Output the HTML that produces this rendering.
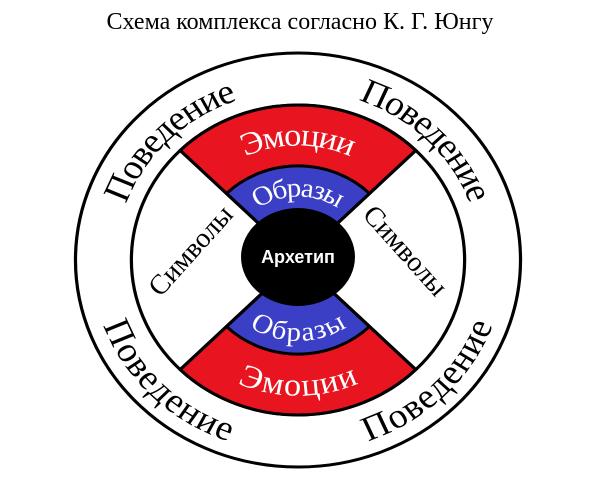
<!DOCTYPE html>
<html><head><meta charset="utf-8"><style>
html,body{margin:0;padding:0;background:#fff;}
svg{display:block;}
</style></head><body>
<svg width="600" height="494" viewBox="0 0 600 494" xmlns="http://www.w3.org/2000/svg">
<text x="300" y="29" text-anchor="middle" font-family="Liberation Serif, serif" font-size="24" fill="#000">Схема комплекса согласно К. Г. Юнгу</text>
<g transform="translate(298,260) scale(1.075,1)">
  <defs>
    <path id="eT" d="M -88.4 -88.4 A 125 125 0 0 1 88.4 -88.4"/>
    <path id="eB" d="M -88.4 88.4 A 125 125 0 0 0 88.4 88.4"/>
    <path id="oT" d="M -51 -51 A 72 72 0 0 1 51 -51"/>
    <path id="oB" d="M -51 51 A 72 72 0 0 0 51 51"/>
    <path id="pTL" d="M -181 0 A 181 181 0 0 1 0 -181"/>
    <path id="pTR" d="M 0 -181 A 181 181 0 0 1 181 0"/>
    <path id="pBL" d="M -181 0 A 181 181 0 0 0 0 181"/>
    <path id="pBR" d="M 0 181 A 181 181 0 0 0 181 0"/>
  </defs>
  <circle r="207" fill="none" stroke="#000" stroke-width="3"/>
  <circle r="155" fill="none" stroke="#000" stroke-width="3"/>
  <path d="M0 0 L-109.6 -109.6 A155 155 0 0 1 109.6 -109.6 Z" fill="#e8141f" stroke="#000" stroke-width="3"/>
  <path d="M0 0 L-109.6 109.6 A155 155 0 0 0 109.6 109.6 Z" fill="#e8141f" stroke="#000" stroke-width="3"/>
  <path d="M0 0 L-66.5 -66.5 A94 94 0 0 1 66.5 -66.5 Z" fill="#3b3fc6" stroke="#000" stroke-width="3"/>
  <path d="M0 0 L-66.5 66.5 A94 94 0 0 0 66.5 66.5 Z" fill="#3b3fc6" stroke="#000" stroke-width="3"/>
  <line x1="-109.6" y1="-109.6" x2="109.6" y2="109.6" stroke="#000" stroke-width="3"/>
  <line x1="109.6" y1="-109.6" x2="-109.6" y2="109.6" stroke="#000" stroke-width="3"/>
  <ellipse cx="0" cy="-3" rx="53" ry="49" fill="#000"/>
  <g font-family="Liberation Serif, serif" fill="#fff">
    <text font-size="32" dominant-baseline="central"><textPath href="#eT" startOffset="50%" text-anchor="middle">Эмоции</textPath></text>
    <text font-size="32" dominant-baseline="central"><textPath href="#eB" startOffset="50%" text-anchor="middle">Эмоции</textPath></text>
    <text font-size="27" dominant-baseline="central"><textPath href="#oT" startOffset="50%" text-anchor="middle">Образы</textPath></text>
    <text font-size="27" dominant-baseline="central"><textPath href="#oB" startOffset="50%" text-anchor="middle">Образы</textPath></text>
  </g>
  <g font-family="Liberation Serif, serif" fill="#000" font-size="35">
    <text dominant-baseline="central"><textPath href="#pTL" startOffset="50%" text-anchor="middle">Поведение</textPath></text>
    <text dominant-baseline="central"><textPath href="#pTR" startOffset="50%" text-anchor="middle">Поведение</textPath></text>
    <text dominant-baseline="central"><textPath href="#pBL" startOffset="50%" text-anchor="middle">Поведение</textPath></text>
    <text dominant-baseline="central"><textPath href="#pBR" startOffset="50%" text-anchor="middle">Поведение</textPath></text>
  </g>
</g>
<text transform="translate(191,251) rotate(-48)" text-anchor="middle" dominant-baseline="central" font-family="Liberation Serif, serif" font-size="28" fill="#000">Символы</text>
<text transform="translate(405,251) rotate(48)" text-anchor="middle" dominant-baseline="central" font-family="Liberation Serif, serif" font-size="28" fill="#000">Символы</text>
<text x="298" y="257" text-anchor="middle" dominant-baseline="central" font-family="Liberation Sans, sans-serif" font-weight="bold" font-size="18" fill="#fff">Архетип</text>
</svg>
</body></html>
